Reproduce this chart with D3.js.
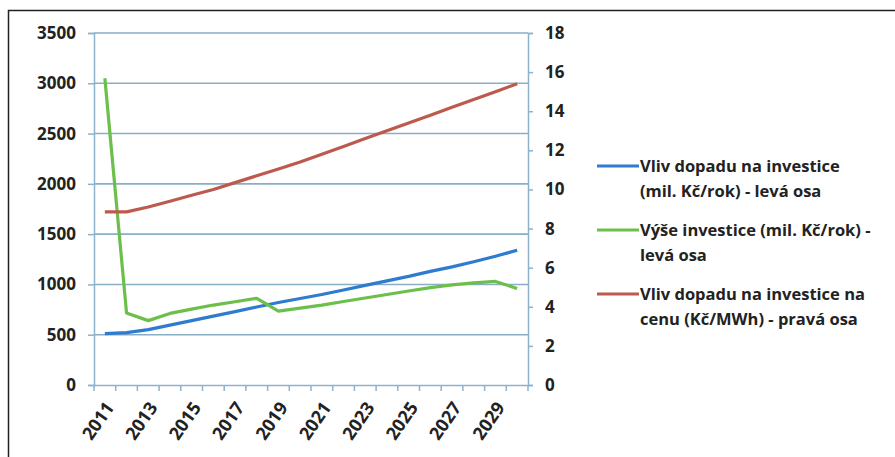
<!DOCTYPE html>
<html><head><meta charset="utf-8">
<script src="https://cdn.jsdelivr.net/npm/d3@7"></script>
<style>
html,body{margin:0;padding:0;background:#fff;}
svg text{font-family:"Open Sans",sans-serif;font-weight:700;fill:#222;}
</style></head>
<body>
<svg id="chart" width="895" height="457"></svg>
<script>
const years = [2011,2012,2013,2014,2015,2016,2017,2018,2019,2020,2021,2022,2023,2024,2025,2026,2027,2028,2029,2030];
const vlivInvestice = [510,520,550,595,640,685,730,775,820,860,900,945,990,1035,1080,1130,1175,1225,1280,1340];
const vyseInvestice = [3050,715,640,712,755,795,828,862,735,765,795,830,865,900,935,968,995,1015,1030,960];
const vlivCena = [8.85,8.85,9.1,9.4,9.7,10.0,10.35,10.7,11.05,11.4,11.8,12.2,12.6,13.0,13.4,13.8,14.2,14.6,15.0,15.4];
const leftTicks = [0,500,1000,1500,2000,2500,3000,3500];
const rightTicks = [0,2,4,6,8,10,12,14,16,18];
const xLabels = [2011,2013,2015,2017,2019,2021,2023,2025,2027,2029];
const legendItems = [
  {lines:["Vliv dopadu na investice","(mil. Kč/rok)  - levá osa"], color:"#2e7bcf"},
  {lines:["Výše investice (mil. Kč/rok) -","levá osa"], color:"#6cbf4a"},
  {lines:["Vliv dopadu na investice na","cenu (Kč/MWh) - pravá osa"], color:"#bd5a4e"}
];

const svg = d3.select("#chart");
const L = 94, R = 528, T = 33, B = 385;
const axisColor = "#8db2cc";

svg.append("rect").attr("x",8.5).attr("y",10.5).attr("width",900).attr("height",470)
  .attr("fill","#fff").attr("stroke","#222").attr("stroke-width",1.5);

const xBand = d3.scaleBand().domain(years).range([L,R]);
const x = d => xBand(d) + xBand.bandwidth()/2;
const yL = d3.scaleLinear().domain([0,3500]).range([B,T]);
const yR = d3.scaleLinear().domain([0,18]).range([B,T]);

// gridlines
svg.append("g").selectAll("line").data(leftTicks.filter(d=>d>0)).join("line")
  .attr("x1",L).attr("x2",R).attr("y1",d=>yL(d)).attr("y2",d=>yL(d))
  .attr("stroke","#8aaec6").attr("stroke-width",1.6);

// left axis
const gl = svg.append("g").attr("transform",`translate(${L},0)`)
  .call(d3.axisLeft(yL).tickValues(leftTicks).tickSize(6).tickPadding(12).tickFormat(d3.format("d")));
gl.selectAll("text").style("font-size","17px");
// right axis
const gr = svg.append("g").attr("transform",`translate(${R},0)`)
  .call(d3.axisRight(yR).tickValues(rightTicks).tickSize(5).tickPadding(12).tickFormat(d3.format("d")));
gr.selectAll("text").style("font-size","17px");
// x axis
const gx = svg.append("g").attr("transform",`translate(0,${B})`)
  .call(d3.axisBottom(xBand).tickValues(xLabels).tickSize(0).tickPadding(0));
gx.selectAll("text").style("font-size","18px").attr("text-anchor","end")
  .attr("transform","translate(5,19) rotate(-55)").attr("dy","0.35em").attr("y",0);
// x tick marks at category boundaries
const bounds = years.map(d=>xBand(d)).concat([R]);
svg.append("g").selectAll("line").data(bounds).join("line")
  .attr("x1",d=>d).attr("x2",d=>d).attr("y1",B).attr("y2",B+6)
  .attr("stroke",axisColor).attr("stroke-width",1.5);

[gl,gr,gx].forEach(g=>{
  g.selectAll(".domain").attr("stroke",axisColor).attr("stroke-width",1.5);
  g.selectAll(".tick line").attr("stroke",axisColor).attr("stroke-width",1.5);
});

// series
const lineL = d3.line().x((d,i)=>x(years[i])).y(d=>yL(d));
const lineR = d3.line().x((d,i)=>x(years[i])).y(d=>yR(d));
svg.append("path").datum(vlivInvestice).attr("d",lineL).attr("fill","none")
  .attr("stroke",legendItems[0].color).attr("stroke-width",3.2).attr("stroke-linejoin","round");
svg.append("path").datum(vyseInvestice).attr("d",lineL).attr("fill","none")
  .attr("stroke",legendItems[1].color).attr("stroke-width",3.2).attr("stroke-linejoin","round");
svg.append("path").datum(vlivCena).attr("d",lineR).attr("fill","none")
  .attr("stroke",legendItems[2].color).attr("stroke-width",3.2).attr("stroke-linejoin","round");

// legend
const legendY = [166, 230, 294];
const lg = svg.append("g");
legendItems.forEach((it,i)=>{
  const y0 = legendY[i];
  lg.append("line").attr("x1",597).attr("x2",639).attr("y1",y0).attr("y2",y0)
    .attr("stroke",it.color).attr("stroke-width",3.2);
  it.lines.forEach((t,j)=>{
    lg.append("text").attr("x",640).attr("y",y0+j*25).attr("dy","0.35em")
      .style("font-size","16.5px").text(t);
  });
});
</script>
</body></html>
